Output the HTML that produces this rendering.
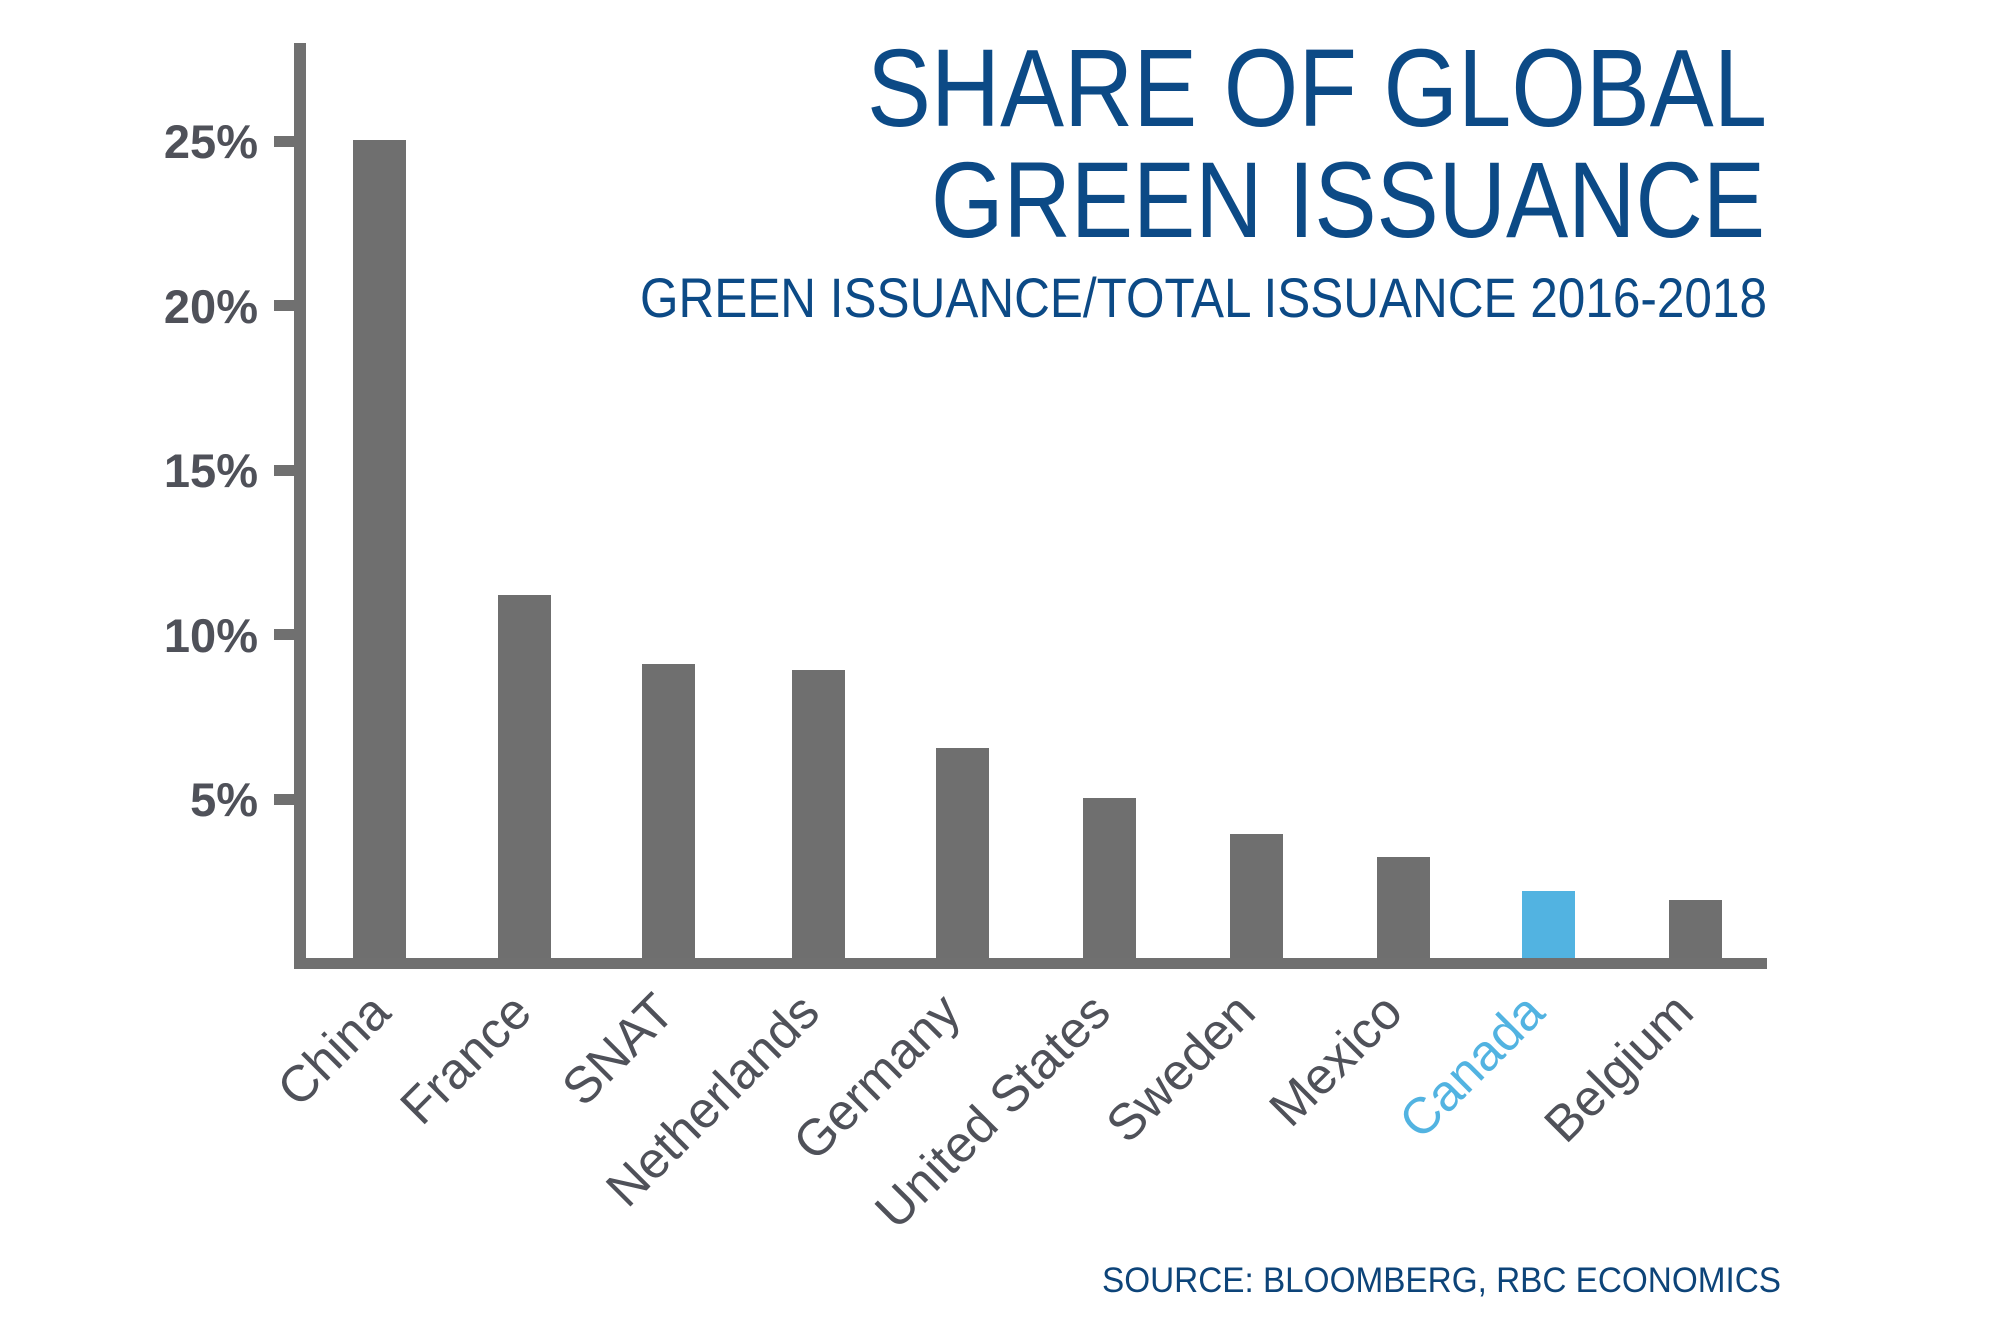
<!DOCTYPE html>
<html>
<head>
<meta charset="utf-8">
<style>
  html, body { margin: 0; padding: 0; background: #ffffff; }
  svg { display: block; }
  text { font-family: "Liberation Sans", "DejaVu Sans", sans-serif; }
</style>
</head>
<body>
<svg width="1989" height="1337" viewBox="0 0 1989 1337" xmlns="http://www.w3.org/2000/svg">
  <rect x="0" y="0" width="1989" height="1337" fill="#ffffff"/>

  <!-- Title -->
  <text x="867" y="126" font-size="110" fill="#0c4a86" textLength="900" lengthAdjust="spacingAndGlyphs">SHARE OF GLOBAL</text>
  <text x="931" y="237" font-size="108" fill="#0c4a86" textLength="834" lengthAdjust="spacingAndGlyphs">GREEN ISSUANCE</text>
  <text x="640" y="317" font-size="56" fill="#0c4a86" textLength="1127" lengthAdjust="spacingAndGlyphs">GREEN ISSUANCE/TOTAL ISSUANCE 2016-2018</text>

  <!-- Bars -->
  <g fill="#6f6f6f">
    <rect x="353" y="140" width="53" height="822"/>
    <rect x="498" y="595" width="53" height="367"/>
    <rect x="642" y="664" width="53" height="298"/>
    <rect x="792" y="670" width="53" height="292"/>
    <rect x="936" y="748" width="53" height="214"/>
    <rect x="1083" y="798" width="53" height="164"/>
    <rect x="1230" y="834" width="53" height="128"/>
    <rect x="1377" y="857" width="53" height="105"/>
    <rect x="1669" y="900" width="53" height="62"/>
  </g>
  <rect x="1522" y="891" width="53" height="71" fill="#52b3e1"/>

  <!-- Axes -->
  <g fill="#707070">
    <rect x="294" y="43" width="12" height="926"/>
    <rect x="294" y="958" width="1473" height="11"/>
    <rect x="274" y="136" width="22" height="11"/>
    <rect x="274" y="300" width="22" height="11"/>
    <rect x="274" y="465" width="22" height="11"/>
    <rect x="274" y="629" width="22" height="11"/>
    <rect x="274" y="794" width="22" height="11"/>
  </g>

  <!-- Y tick labels -->
  <g font-size="47" font-weight="bold" fill="#4f5159" text-anchor="end">
    <text x="258" y="158">25%</text>
    <text x="258" y="323">20%</text>
    <text x="258" y="487">15%</text>
    <text x="258" y="652">10%</text>
    <text x="258" y="816">5%</text>
  </g>

  <!-- X category labels -->
  <g font-size="51" fill="#4f5159" text-anchor="end">
    <text transform="translate(393,1015) rotate(-45)">China</text>
    <text transform="translate(534,1015) rotate(-45)">France</text>
    <text transform="translate(677,1015) rotate(-45)">SNAT</text>
    <text transform="translate(822,1015) rotate(-45)">Netherlands</text>
    <text transform="translate(963,1015) rotate(-45)">Germany</text>
    <text transform="translate(1113,1015) rotate(-45)">United States</text>
    <text transform="translate(1258,1015) rotate(-45)">Sweden</text>
    <text transform="translate(1405,1015) rotate(-45)">Mexico</text>
    <text transform="translate(1547,1015) rotate(-45)" fill="#52b3e1">Canada</text>
    <text transform="translate(1696,1015) rotate(-45)">Belgium</text>
  </g>

  <!-- Source -->
  <text x="1102" y="1292" font-size="35" fill="#0d4479" textLength="679" lengthAdjust="spacingAndGlyphs">SOURCE: BLOOMBERG, RBC ECONOMICS</text>
</svg>
</body>
</html>
